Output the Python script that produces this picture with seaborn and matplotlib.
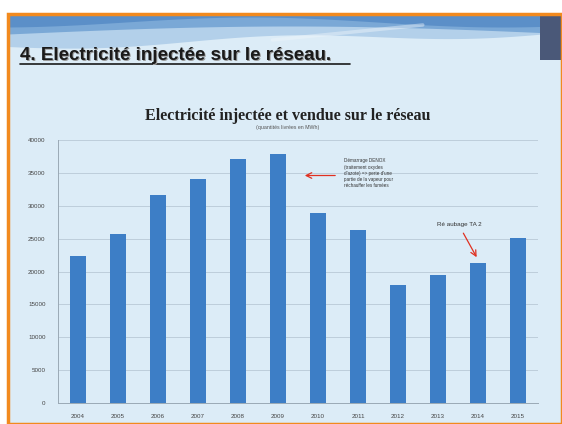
import numpy as np
import pandas as pd
import matplotlib.pyplot as plt
import matplotlib.patches as mpatches
import seaborn as sns

# values (MWh)
years = ['2004', '2005', '2006', '2007', '2008', '2009', '2010', '2011', '2012', '2013', '2014', '2015']
injected = [22300, 25700, 31600, 34000, 37100, 37800, 28900, 26300, 17900, 19500, 21300, 25100]
y_ticks = [0, 5000, 10000, 15000, 20000, 25000, 30000, 35000, 40000]

df = pd.DataFrame({'year': years, 'mwh': injected})

sns.set_style('white')
plt.rcParams['font.family'] = ['Liberation Sans', 'DejaVu Sans']

W, H = 562, 424
fig = plt.figure(figsize=(W / 100, H / 100), dpi=100)
fig.patch.set_facecolor('white')

# slide background + decoration (pixel coords)
bg = fig.add_axes([0, 0, 1, 1], zorder=0)
bg.set_xlim(0, W)
bg.set_ylim(H, 0)
bg.axis('off')
bg.add_patch(mpatches.Rectangle((8, 14), W - 8, H - 14, facecolor='#dcecf7', edgecolor='none'))
xs = np.linspace(8, W, 200)
bg.fill_between(xs, 14, 46 - 14 * (xs - 8) / 554 + 4 * np.sin(xs / 60), color='#b3d0ea', lw=0)
bg.fill_between(xs, 14, 34 - 8 * np.sin((xs - 8) / 180), color='#7aa8d6', lw=0)
bg.fill_between(xs, 14, 22 + 5 * np.cos(xs / 80), color='#5b8fc8', lw=0)
bg.plot(xs[95:150], 40 - 0.1 * (xs[95:150] - xs[95]), color='#eef5fb', lw=2.5, alpha=0.45)
bg.add_patch(mpatches.Rectangle((540, 15), 22, 45, facecolor='#4a5878', edgecolor='none'))
bg.add_patch(mpatches.Rectangle((8, 14), W - 8, H - 14, facecolor='none', edgecolor='#f28a1e', lw=2.5))

# slide heading
heading = '4. Electricité injectée sur le réseau.'
bg.text(21, 61, heading, fontsize=13.5, fontweight='bold', color='#9a9a9a', va='baseline')
bg.text(20, 60, heading, fontsize=13.5, fontweight='bold', color='#1a1a1a', va='baseline')
bg.plot([20, 350], [64, 64], color='#1a1a1a', lw=1.2)

# chart titles
bg.text(288, 120, 'Electricité injectée et vendue sur le réseau', fontsize=11.5, fontweight='bold',
        family=['Liberation Serif', 'DejaVu Serif'], color='#222222', ha='center', va='baseline')
bg.text(288, 129, '(quantités livrées en MWh)', fontsize=3.8, color='#555555', ha='center',
        va='baseline')

# chart
ax = fig.add_axes([58 / W, 1 - 403 / H, 480 / W, 263 / H], zorder=1)
ax.patch.set_alpha(0)
sns.barplot(data=df, x='year', y='mwh', color='#3d7ec6', width=0.4, saturation=1,
            edgecolor='none', linewidth=0, ax=ax)
ax.set_ylim(0, 40000)
ax.set_yticks(y_ticks)
ax.set_yticklabels([str(t) for t in y_ticks], fontsize=4.5, color='#444444')
ax.tick_params(axis='x', labelsize=4.5, colors='#444444', length=0, pad=8)
ax.tick_params(axis='y', length=3, pad=6, color='#999999')
ax.set_xlabel('')
ax.set_ylabel('')
ax.grid(axis='y', color='#b9c9d6', lw=0.6)
ax.set_axisbelow(True)
for s in ['top', 'right']:
    ax.spines[s].set_visible(False)
for s in ['left', 'bottom']:
    ax.spines[s].set_color('#9aa9b5')
    ax.spines[s].set_linewidth(0.7)

# annotations
ax.annotate('', xy=(5.6, 34600), xytext=(6.5, 34600),
            arrowprops=dict(arrowstyle='->', color='#e03020', lw=0.9))
ax.text(6.65, 37200, 'Démarrage DENOX\n(traitement oxydes\nd\'azote) => perte d\'une\npartie de la vapeur pour\nréchauffer les fumées',
        fontsize=3.3, color='#333333', va='top', linespacing=1.3)
ax.text(8.98, 27200, 'Ré aubage TA 2', fontsize=4.5, color='#333333', ha='left', va='center')
ax.annotate('', xy=(10.0, 21800), xytext=(9.6, 26200),
            arrowprops=dict(arrowstyle='->', color='#e03020', lw=0.9))

fig.savefig('out.png', dpi=100)
